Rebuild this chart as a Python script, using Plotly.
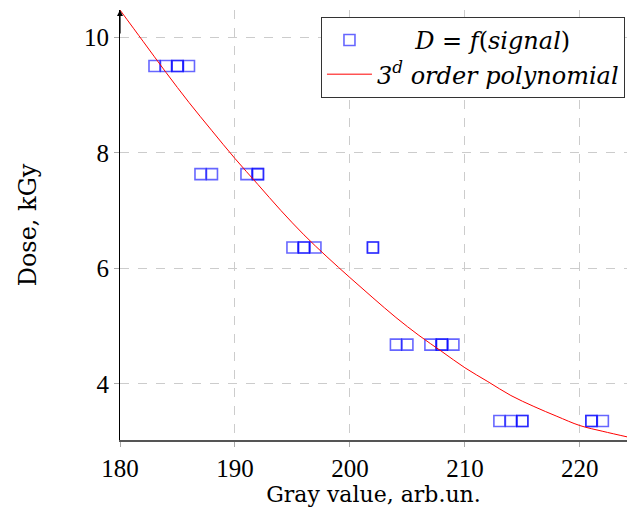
import plotly.graph_objects as go

# Measured data (gray value, dose)
signal = [183, 184, 185, 185, 186,
          187, 188, 191, 192, 192,
          195, 196, 196, 197, 202, 202,
          204, 205, 207, 208, 208, 209,
          213, 214, 215, 215, 221, 221, 222]
dose = [9.50, 9.50, 9.50, 9.50, 9.50,
        7.63, 7.63, 7.63, 7.63, 7.63,
        6.36, 6.36, 6.36, 6.36, 6.36, 6.36,
        4.68, 4.68, 4.68, 4.68, 4.68, 4.68,
        3.36, 3.36, 3.36, 3.36, 3.36, 3.36, 3.36]

# Points
fit_x = [180, 182, 184, 186, 188, 190, 192, 194, 196, 198, 200, 202, 204,
         206, 208, 210, 212, 214, 216, 218, 220, 222, 224.2]
fit_y = [10.47, 9.93, 9.39, 8.87, 8.38, 7.90, 7.45, 7.00, 6.58, 6.20, 5.84,
         5.49, 5.15, 4.84, 4.56, 4.28, 4.04, 3.80, 3.61, 3.44, 3.28, 3.18, 3.08]

x_ticks = [180, 190, 200, 210, 220]
y_ticks = [4, 6, 8, 10]

tick_font = "Times New Roman, Liberation Serif, serif"
text_font = "DejaVu Serif, serif"

fig = go.Figure()
fig.add_trace(go.Scatter(
    x=signal, y=dose, mode="markers",
    name="     <i>D</i> = <i>f</i>(<i>signal</i>)",
    marker=dict(symbol="square-open", size=11, color="rgba(0,0,255,0.6)",
                line=dict(width=1.6, color="rgba(0,0,255,0.6)")),
))
fig.add_trace(go.Scatter(
    x=fit_x, y=fit_y, mode="lines", line_shape="spline",
    name="<i>3<sup>d</sup> order polynomial</i>",
    line=dict(color="#ff0000", width=1),
))

fig.update_layout(
    width=627, height=513,
    margin=dict(l=120, r=0, t=10, b=73, autoexpand=False),
    paper_bgcolor="white", plot_bgcolor="white",
    font=dict(family=text_font, size=22, color="black"),
    showlegend=True,
    legend=dict(x=0.996, xanchor="right", y=0.984, yanchor="top",
                bgcolor="white", bordercolor="#333333", borderwidth=1,
                font=dict(family=text_font, size=24),
                itemwidth=45, tracegroupgap=0),
    xaxis=dict(range=[180, 224.1], tickvals=x_ticks, automargin=False,
               showline=True, linecolor="#555555", linewidth=1.5,
               showgrid=True, gridcolor="#cccccc", griddash="dash", gridwidth=1,
               zeroline=False, ticks="outside", ticklen=5, tickcolor="#aaaaaa",
               title=dict(text="Gray value, arb.un.", standoff=6,
                          font=dict(family=text_font, size=22)),
               tickfont=dict(family=tick_font, size=25)),
    yaxis=dict(range=[3.03, 10.47], tickvals=y_ticks, automargin=False,
               showline=True, linecolor="black", linewidth=1.2,
               showgrid=True, gridcolor="#cccccc", griddash="dash", gridwidth=1,
               zeroline=False, ticks="outside", ticklen=5, tickcolor="#aaaaaa",
               title=dict(text="Dose, kGy", standoff=40,
                          font=dict(family=text_font, size=24)),
               tickfont=dict(family=tick_font, size=25)),
)

# Arrow head on top of the y axis
fig.add_annotation(x=180, y=10.47, xref="x", yref="y", ax=0, ay=25,
                   axref="pixel", ayref="pixel", showarrow=True, text="",
                   arrowhead=2, arrowsize=1, arrowwidth=1.2, arrowcolor="black")

fig.write_html("out.html")
